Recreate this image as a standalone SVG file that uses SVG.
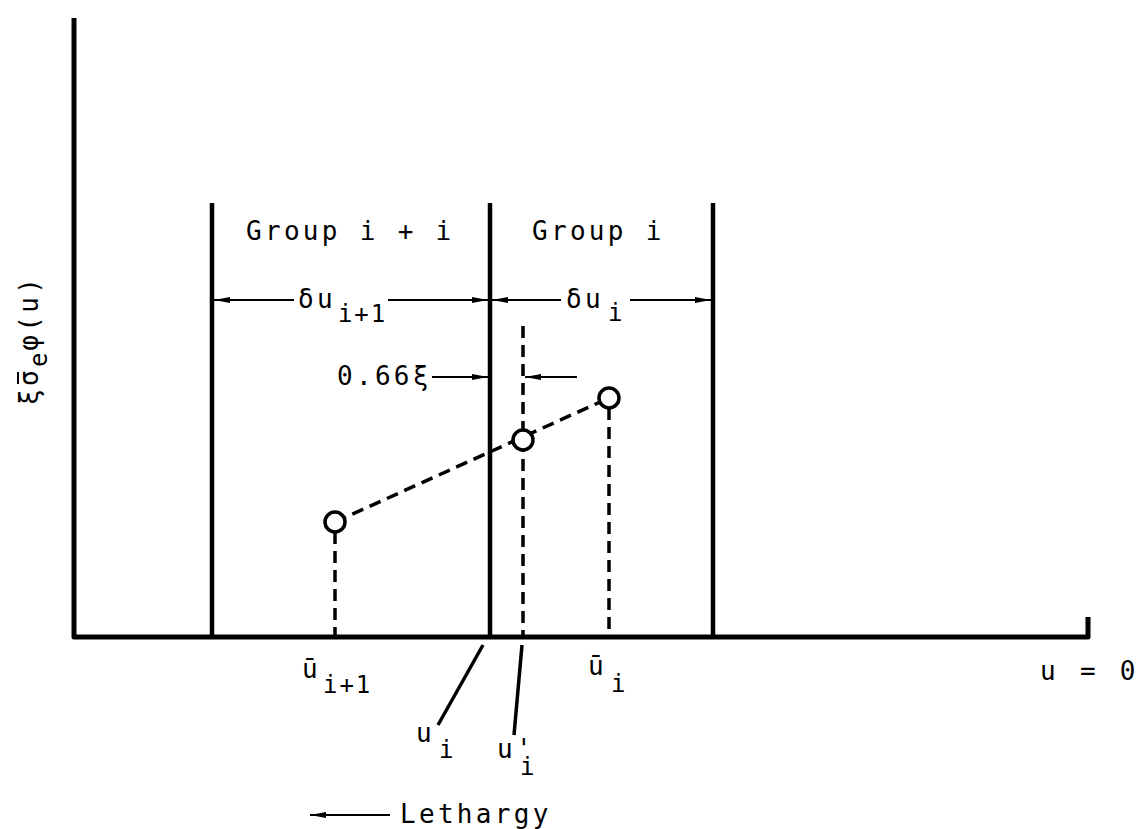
<svg xmlns="http://www.w3.org/2000/svg" width="1140" height="829" viewBox="0 0 1140 829">
<style>
text { font-family: "DejaVu Sans Mono", "Liberation Mono", monospace; fill: #000; }
.lbl { font-size: 26px; letter-spacing: 3.3px; }
.sub { font-size: 24px; letter-spacing: 2px; }
.axis { stroke: #000; stroke-width: 5; fill: none; stroke-linejoin: round; }
.bound { stroke: #000; stroke-width: 4.5; }
.dash { stroke: #000; stroke-width: 3.5; stroke-dasharray: 12 7; fill: none; }
.thin { stroke: #000; stroke-width: 2; fill: none; }
.bar { stroke: #000; stroke-width: 2; }
.lead { stroke: #000; stroke-width: 3.5; }
.pt { fill: #fff; stroke: #000; stroke-width: 3.5; }
</style>
<defs>
<marker id="ah" viewBox="0 0 16 8" refX="16" refY="4" markerWidth="16" markerHeight="8" markerUnits="userSpaceOnUse" orient="auto">
<path d="M0,1 L16,4 L0,7 Z" fill="#000"/>
</marker>
</defs>
<g id="axes">
<path class="axis" d="M74,18 V637 H1088 V617"/>
<g transform="translate(38,405) rotate(-90)">
<text class="lbl" x="0" y="0">ξσ<tspan class="sub" dy="9">e</tspan><tspan dy="-9">φ(u)</tspan></text>
<line class="bar" x1="21" y1="-20" x2="33" y2="-20"/>
</g>
<text class="lbl" x="1040" y="680" style="letter-spacing:4.3px">u = 0</text>
</g>
<g id="group-boundaries">
<line class="bound" x1="212" y1="203" x2="212" y2="637"/>
<line class="bound" x1="490" y1="203" x2="490" y2="637"/>
<line class="bound" x1="713" y1="203" x2="713" y2="637"/>
<text class="lbl" x="246" y="240">Group i + i</text>
<text class="lbl" x="532" y="240">Group i</text>
</g>
<g id="connectors">
<line class="thin" x1="294" y1="300" x2="214" y2="300" marker-end="url(#ah)"/>
<line class="thin" x1="388" y1="300" x2="488" y2="300" marker-end="url(#ah)"/>
<line class="thin" x1="561" y1="300" x2="492" y2="300" marker-end="url(#ah)"/>
<line class="thin" x1="630" y1="300" x2="711" y2="300" marker-end="url(#ah)"/>
<line class="thin" x1="432" y1="377" x2="488" y2="377" marker-end="url(#ah)"/>
<line class="thin" x1="577" y1="377" x2="525" y2="377" marker-end="url(#ah)"/>
<path class="dash" d="M523,326 V637"/>
<path class="dash" d="M335,532 V637"/>
<path class="dash" d="M609,408 V637"/>
<path class="dash" d="M335,522 L609,398"/>
<line class="lead" x1="483" y1="645" x2="438" y2="725"/>
<line class="lead" x1="522" y1="645" x2="514" y2="735"/>
<line class="thin" x1="390" y1="815" x2="310" y2="815" marker-end="url(#ah)"/>
</g>
<g id="labels">
<text class="lbl" x="298" y="308">δu<tspan class="sub" dy="14" dx="2">i+1</tspan></text>
<text class="lbl" x="566" y="308">δu<tspan class="sub" dy="13" dx="4">i</tspan></text>
<text class="lbl" x="337" y="385">0.66ξ</text>
<text class="lbl" x="302" y="678">ū<tspan class="sub" dy="15" dx="2">i+1</tspan></text>
<text class="lbl" x="588" y="675">ū<tspan class="sub" dy="17" dx="4">i</tspan></text>
<text class="lbl" x="416" y="742">u<tspan class="sub" dy="16" dx="4">i</tspan></text>
<text class="lbl" x="497" y="758">u'<tspan class="sub" dy="17" dx="-15">i</tspan></text>
<text class="lbl" x="400" y="823">Lethargy</text>
</g>
<g id="points">
<circle class="pt" cx="335" cy="522" r="10"/>
<circle class="pt" cx="523" cy="440" r="10"/>
<circle class="pt" cx="609" cy="398" r="10"/>
</g>
</svg>
